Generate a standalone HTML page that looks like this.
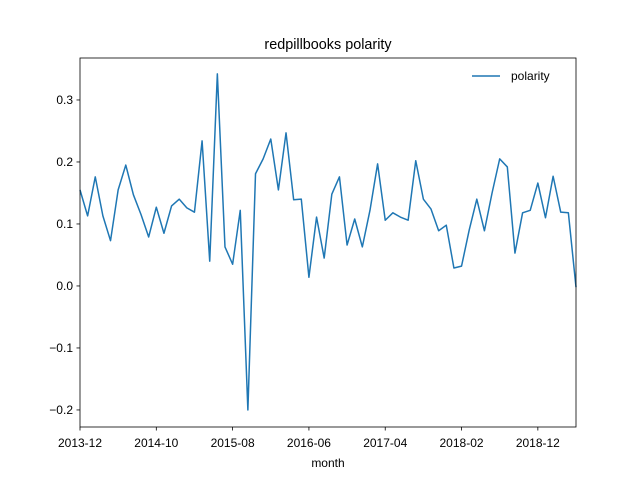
<!DOCTYPE html>
<html><head><meta charset="utf-8"><style>
body{margin:0;background:#fff}
svg{display:block;font-family:"Liberation Sans","DejaVu Sans",sans-serif}
</style></head><body>
<svg id="chart" width="640" height="480"></svg>
<script>
const categories = [];
(function(){let y=2013,m=12;for(let i=0;i<66;i++){categories.push(y+'-'+String(m).padStart(2,'0'));m++;if(m>12){m=1;y++;}}})();
const polarity = [0.155,0.113,0.176,0.113,0.073,0.155,0.195,0.147,0.115,0.079,0.127,0.085,0.129,0.140,0.126,0.119,0.234,0.040,0.342,0.063,0.035,0.122,-0.200,0.181,0.205,0.237,0.155,0.247,0.139,0.140,0.014,0.111,0.045,0.148,0.176,0.066,0.108,0.063,0.122,0.197,0.106,0.118,0.111,0.106,0.202,0.140,0.124,0.089,0.098,0.029,0.032,0.090,0.140,0.089,0.150,0.205,0.192,0.053,0.118,0.122,0.166,0.110,0.177,0.119,0.118,-0.002];
const yTicks = [-0.2,-0.1,0.0,0.1,0.2,0.3];
const xTickLabels = ['2013-12','2014-10','2015-08','2016-06','2017-04','2018-02','2018-12'];

const NS='http://www.w3.org/2000/svg';
const svg=document.getElementById('chart');
const L=80,R=576,T=58,B=427;
const yMin=-0.2275,yMax=0.3677;
const xs=i=>L+(R-L)*i/(categories.length-1);
const ys=v=>B-(v-yMin)/(yMax-yMin)*(B-T);
function el(tag,attrs,txt){const e=document.createElementNS(NS,tag);for(const k in attrs)e.setAttribute(k,attrs[k]);if(txt!=null)e.textContent=txt;svg.appendChild(e);return e;}

let d='';
polarity.forEach((v,i)=>{d+=(i?'L':'M')+xs(i).toFixed(2)+' '+ys(v).toFixed(2);});
const line=el('path',{d:d,fill:'none',stroke:'#1f77b4','stroke-width':1.5,'stroke-linejoin':'round'});



const frame=el('rect',{x:L,y:T,width:R-L,height:B-T,fill:'none',stroke:'#000','stroke-width':0.8});



yTicks.forEach(t=>{const y=ys(t);
 el('line',{x1:L-3.5,x2:L,y1:y,y2:y,stroke:'#000','stroke-width':0.8});
 const lb=el('text',{x:L-7,y:y+4,'text-anchor':'end','font-size':12},t.toFixed(1).replace('-','−'));
 
 
});
xTickLabels.forEach(s=>{const i=categories.indexOf(s);const x=xs(i);
 el('line',{x1:x,x2:x,y1:B,y2:B+3.5,stroke:'#000','stroke-width':0.8});
 const lb=el('text',{x:x,y:B+20,'text-anchor':'middle','font-size':12},s);
 
 
});
const xt=el('text',{x:(L+R)/2,y:467,'text-anchor':'middle','font-size':12},'month');


const tt=el('text',{x:(L+R)/2,y:49,'text-anchor':'middle','font-size':14.4},'redpillbooks polarity');


const lg=el('line',{x1:472,x2:500,y1:76,y2:76,stroke:'#1f77b4','stroke-width':1.5});


const lt=el('text',{x:511,y:80,'font-size':12},'polarity');


</script>
</body></html>
